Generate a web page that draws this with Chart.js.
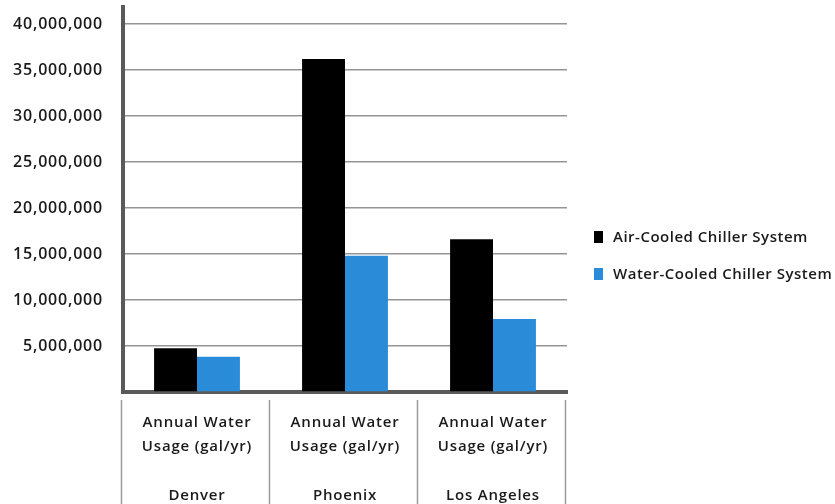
<!DOCTYPE html>
<html>
<head>
<meta charset="utf-8">
<script src="https://cdn.jsdelivr.net/npm/chart.js@4/dist/chart.umd.min.js"></script>
<style>
  html, body { margin: 0; padding: 0; background: #fff; }
  #wrap { position: relative; width: 835px; height: 504px; overflow: hidden; }
  #c { position: absolute; left: 0; top: 0; }
  .leg { position: absolute; left: 594px; font-family: "Open Sans", sans-serif; font-size: 15px; font-weight: 600; letter-spacing: 0.5px; color: #1a1a1a; white-space: nowrap; }
  .leg span.box { display: inline-block; width: 9px; height: 12px; margin-right: 10px; vertical-align: -1px; }
</style>
</head>
<body>
<div id="wrap">
  <canvas id="c" width="835" height="504"></canvas>
  <div class="leg" id="leg0" style="top:226px"><span class="box" style="background:#000"></span><span id="t0"></span></div>
  <div class="leg" id="leg1" style="top:263px"><span class="box" style="background:#2a8bd8"></span><span id="t1"></span></div>
</div>
<script>
const categories = ['Denver', 'Phoenix', 'Los Angeles'];
const metricLines = ['Annual Water', 'Usage (gal/yr)'];
const seriesNames = ['Air-Cooled Chiller System', 'Water-Cooled Chiller System'];
const airCooled = [4750000, 36200000, 16600000];
const waterCooled = [3840000, 14800000, 7930000];
const yTicks = [5000000, 10000000, 15000000, 20000000, 25000000, 30000000, 35000000, 40000000];

document.getElementById('t0').textContent = seriesNames[0];
document.getElementById('t1').textContent = seriesNames[1];

const textSpacing = {
  id: 'textSpacing',
  beforeDraw(chart) { chart.ctx.letterSpacing = '0.8px'; }
};

const separators = {
  id: 'separators',
  afterDraw(chart) {
    const x = chart.scales.x;
    const ctx = chart.ctx;
    ctx.save();
    ctx.strokeStyle = '#9a9a9a';
    ctx.lineWidth = 1.5;
    const n = categories.length;
    const w = (x.right - x.left) / n;
    for (let i = 0; i <= n; i++) {
      const px = Math.round(x.left + i * w) - 1.5;
      ctx.beginPath();
      ctx.moveTo(px, x.top + 8);
      ctx.lineTo(px, chart.height);
      ctx.stroke();
    }
    ctx.restore();
  }
};

new Chart(document.getElementById('c'), {
  type: 'bar',
  data: {
    labels: categories.map(c => [metricLines[0], metricLines[1], '', c]),
    datasets: [
      { label: seriesNames[0], data: airCooled, backgroundColor: '#000000', barPercentage: 1, categoryPercentage: 0.58 },
      { label: seriesNames[1], data: waterCooled, backgroundColor: '#2a8bd8', barPercentage: 1, categoryPercentage: 0.58 }
    ]
  },
  options: {
    responsive: false,
    animation: false,
    devicePixelRatio: 1,
    layout: { padding: { top: 7, right: 268, left: 0, bottom: 0 } },
    plugins: { legend: { display: false }, tooltip: { enabled: false } },
    scales: {
      x: {
        grid: { display: false, drawTicks: false },
        border: { display: true, color: '#5a5a5a', width: 4 },
        ticks: {
          color: '#1a1a1a',
          padding: 18,
          maxRotation: 0,
          autoSkip: false,
          font: { family: 'Open Sans', size: 15, weight: '600', lineHeight: '24.5px' }
        },
        afterFit(scale) { scale.height = 112; scale.paddingLeft = 0; scale.paddingRight = 0; }
      },
      y: {
        min: 0,
        max: 41850000,
        afterBuildTicks(scale) {
          scale.ticks = [{ value: 0 }].concat(yTicks.map(v => ({ value: v })));
        },
        grid: { color: '#959595', lineWidth: 1.5, drawTicks: false },
        border: { display: true, color: '#5a5a5a', width: 4 },
        ticks: {
          color: '#1a1a1a',
          padding: 20,
          font: { family: 'Open Sans', size: 16, weight: '600' },
          callback(v) { return v === 0 ? '' : v.toLocaleString('en-US'); }
        },
        afterFit(scale) { scale.width = 123; scale.paddingTop = 0; scale.paddingBottom = 0; }
      }
    }
  },
  plugins: [textSpacing, separators]
});
</script>
</body>
</html>
